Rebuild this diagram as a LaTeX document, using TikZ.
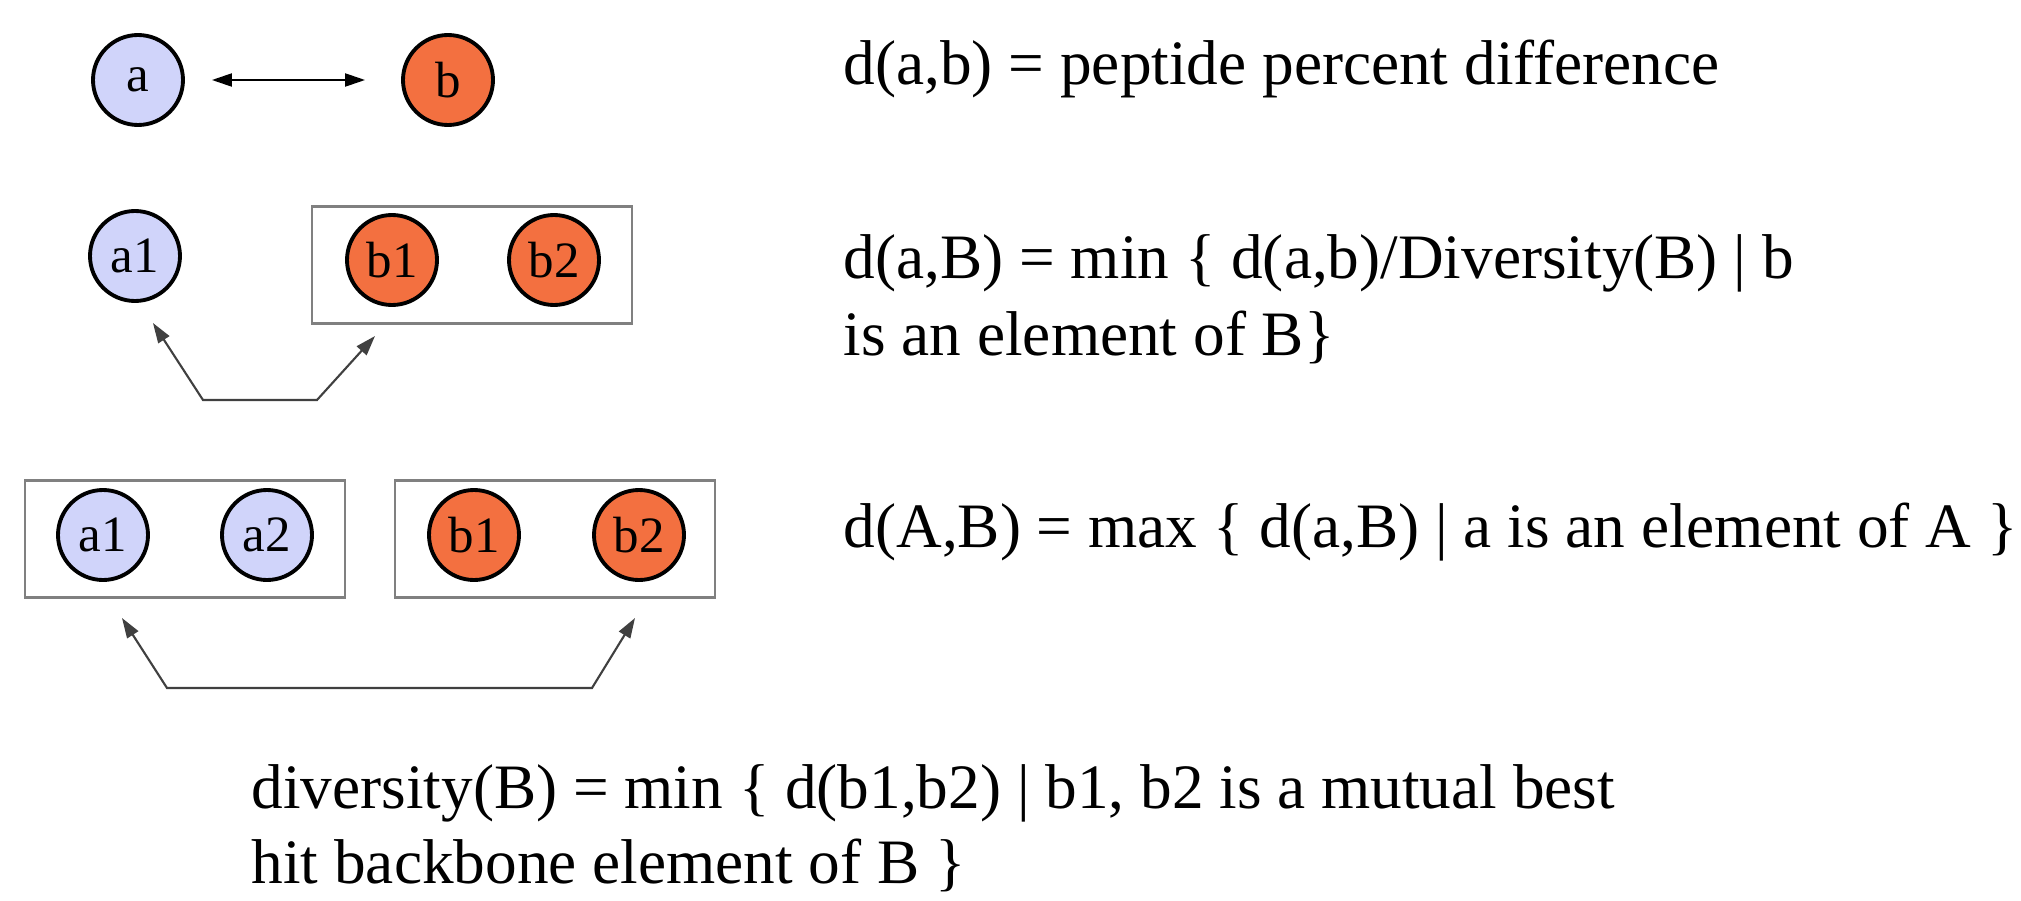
\documentclass[tikz,border=0pt]{standalone}
\usepackage{fontspec}
\setmainfont{Liberation Serif}
\usepackage{tikz}
\usetikzlibrary{arrows.meta, positioning, calc}
\usepackage{xcolor}
\definecolor{pblue}{RGB}{208,212,250}
\definecolor{porange}{RGB}{243,112,64}
\definecolor{pgray}{RGB}{128,128,128}

\begin{document}
\begin{tikzpicture}[
  elemA/.style={circle,draw=black,line width=1.1pt,fill=pblue,
               minimum size=0.9cm,inner sep=0pt,font=\fontsize{14.5}{17}\selectfont},
  elemB/.style={elemA,fill=porange},
  grp/.style={rectangle,draw=pgray,line width=0.8pt,
              minimum width=3.2cm,minimum height=1.17cm,inner sep=0pt},
  eqn/.style={anchor=base west,inner sep=0pt,font=\fontsize{18}{22}\selectfont},
  tip/.style={{Triangle[length=0.2cm,width=0.13cm]}-{Triangle[length=0.2cm,width=0.13cm]}},
  link/.style={tip,draw=black!75,line width=0.6pt}
]
\useasboundingbox (0,0) rectangle (20.21,-9.01);

% a single pair
\node[elemA] (a) at (1.38,-0.80) {a};
\node[elemB] (b) at (4.48,-0.80) {b};
\draw[tip,line width=0.6pt,shorten <=0.27cm,shorten >=0.36cm] (a) -- (b);

% element against group
\node[grp] (grpB) at (4.72,-2.65) {};
\node[elemA] (a1) at (1.35,-2.56) {a1};
\node[elemB] (b1) at (3.92,-2.60) {b1};
\node[elemB] (b2) at (5.54,-2.60) {b2};
\coordinate (p1) at (1.53,-3.23);
\coordinate (q1) at (2.03,-4.00);
\coordinate (q2) at (3.17,-4.00);
\coordinate (p2) at (3.75,-3.36);
\draw[link] (p1) -- (q1) -- (q2) -- (p2);

% group against group
\node[grp] (grpA2) at (1.85,-5.39) {};
\node[grp] (grpB2) at (5.55,-5.39) {};
\node[elemA] (ga1) at (1.03,-5.35) {a1};
\node[elemA] (ga2) at (2.67,-5.35) {a2};
\node[elemB] (gb1) at (4.74,-5.35) {b1};
\node[elemB] (gb2) at (6.39,-5.35) {b2};
\coordinate (r1) at (1.22,-6.18);
\coordinate (s1) at (1.67,-6.88);
\coordinate (s2) at (5.92,-6.88);
\coordinate (r2) at (6.35,-6.18);
\draw[link] (r1) -- (s1) -- (s2) -- (r2);

% definitions
\node[eqn] (dab)  at (8.43,-0.85) {d(a,b) = peptide percent difference};
\node[eqn] (daB)  at (8.43,-2.78) {d(a,B) = min \{ d(a,b)/Diversity(B) | b};
\node[eqn] (daBb) at (8.43,-3.55) {is an element of B\}};
\node[eqn] (dAB)  at (8.43,-5.47) {d(A,B) = max \{ d(a,B) | a is an element of A \}};
\node[eqn] (div)  at (2.51,-8.08) {diversity(B) = min \{ d(b1,b2) | b1, b2 is a mutual best};
\node[eqn] (divb) at (2.51,-8.83) {hit backbone element of B \}};
\end{tikzpicture}
\end{document}
